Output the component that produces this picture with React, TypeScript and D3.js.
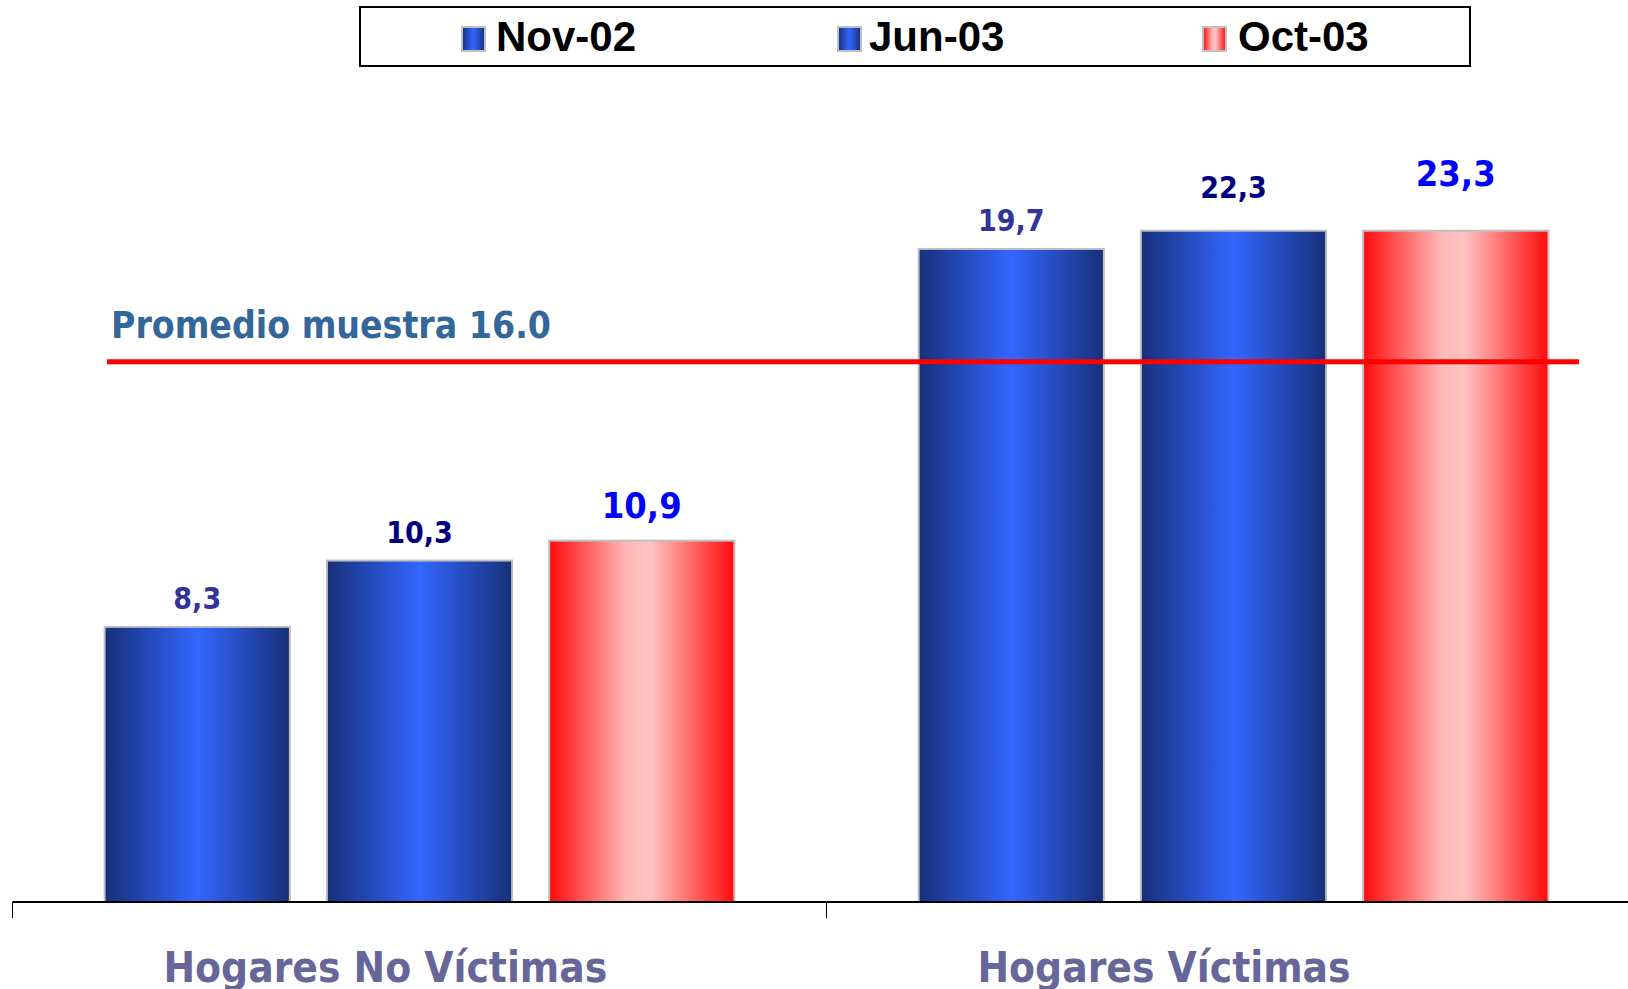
import React from "react";
import * as d3 from "d3";

// data
const categories = ["Hogares No Víctimas", "Hogares Víctimas"];
const seriesNames = ["Nov-02", "Jun-03", "Oct-03"];
const novValues = [8.3, 19.7];
const junValues = [10.3, 22.3];
const octValues = [10.9, 23.3];
const valueLabels = [
  ["8,3", "19,7"],
  ["10,3", "22,3"],
  ["10,9", "23,3"],
];
const averageValue = 16.3;
const averageLabel = "Promedio muestra 16.0";

const seriesValues = [novValues, junValues, octValues];
const labelColors = ["#333399", "#000080", "#0000ff"];
const labelSizes = [30, 30, 36];
const labelOffsets = [18, 18, 23];
const gradIds = ["gradBlue", "gradBlue", "gradRed"];

const W = 1628;
const H = 989;
const baseline = 902;
const plotTop = 230.7;
const yMax = 20.25;

const condensed = "'DejaVu Sans Condensed', 'DejaVu Sans', sans-serif";
const arial = "'Liberation Sans', Arial, sans-serif";

const App = () => {
  const xOuter = d3
    .scaleBand<string>()
    .domain(categories)
    .range([12.5, 12.5 + 814 * 2])
    .padding(0);

  const xInner = d3
    .scaleBand<string>()
    .domain(seriesNames)
    .range([0, xOuter.bandwidth()])
    .paddingInner(0.1574)
    .paddingOuter(0.41);

  const yScale = d3
    .scaleLinear()
    .domain([0, yMax])
    .range([baseline, plotTop])
    .clamp(true);

  const legendSwatchX = [461, 837, 1202];
  const legendTextX = [496, 869, 1238];

  return (
    <svg
      width={W}
      height={H}
      style={{ position: "absolute", left: 0, top: 0, background: "#fff" }}
    >
      <defs>
        <linearGradient id="gradBlue" x1="0" x2="1" y1="0" y2="0">
          <stop offset="0" stopColor="#17307a" />
          <stop offset="0.5" stopColor="#3366ff" />
          <stop offset="1" stopColor="#17307a" />
        </linearGradient>
        <linearGradient id="gradRed" x1="0" x2="1" y1="0" y2="0">
          <stop offset="0" stopColor="#ff0a0a" />
          <stop offset="0.42" stopColor="#ffb8b8" />
          <stop offset="0.55" stopColor="#ffc2c2" />
          <stop offset="1" stopColor="#ff0a0a" />
        </linearGradient>
      </defs>

      {/* legend */}
      <rect x={360} y={7} width={1110} height={59} fill="#fff" stroke="#000" strokeWidth={2} />
      {seriesNames.map((s, i) => (
        <g key={s}>
          <rect
            x={legendSwatchX[i] + 1}
            y={27}
            width={23}
            height={24}
            fill={`url(#${gradIds[i]})`}
            stroke="#c0c0c0"
            strokeWidth={2}
          />
          <text
            x={legendTextX[i]}
            y={51}
            fontFamily={arial}
            fontWeight="bold"
            fontSize={42}
            fill="#000"
          >
            {s}
          </text>
        </g>
      ))}

      {/* bars */}
      {categories.map((c, ci) => (
        <g key={c} transform={`translate(${xOuter(c)},0)`}>
          {seriesNames.map((s, si) => {
            const v = seriesValues[si][ci];
            const top = yScale(v);
            return (
              <rect
                key={s}
                x={xInner(s)! + 1}
                y={top}
                width={xInner.bandwidth() - 2}
                height={baseline - top}
                fill={`url(#${gradIds[si]})`}
                stroke="#c0c0c0"
                strokeWidth={2}
              />
            );
          })}
          {seriesNames.map((s, si) => {
            const v = seriesValues[si][ci];
            const extra = v > yMax ? (v - yMax) * 7 : 0;
            return (
              <text
                key={s + "-label"}
                x={xInner(s)! + xInner.bandwidth() / 2}
                y={yScale(v) - labelOffsets[si] - extra}
                textAnchor="middle"
                fontFamily={condensed}
                fontWeight="bold"
                fontSize={labelSizes[si]}
                fill={labelColors[si]}
              >
                {valueLabels[si][ci]}
              </text>
            );
          })}
        </g>
      ))}

      {/* average line */}
      <line
        x1={107}
        x2={1579}
        y1={yScale(averageValue)}
        y2={yScale(averageValue)}
        stroke="#ff0000"
        strokeWidth={5}
      />
      <text
        x={111}
        y={338.3}
        fontFamily={condensed}
        fontWeight="bold"
        fontSize={37}
        fill="#336699"
      >
        {averageLabel}
      </text>

      {/* axis */}
      <line x1={12.5} x2={W} y1={baseline} y2={baseline} stroke="#000" strokeWidth={2} />
      {categories.map((c) => (
        <line
          key={c + "-tick"}
          x1={xOuter(c)}
          x2={xOuter(c)}
          y1={baseline}
          y2={baseline + 16}
          stroke="#000"
          strokeWidth={1}
        />
      ))}
      {categories.map((c) => (
        <text
          key={c + "-cat"}
          x={xOuter(c)! + 151}
          y={981.7}
          fontFamily={condensed}
          fontWeight="bold"
          fontSize={42}
          fill="#666699"
        >
          {c}
        </text>
      ))}
    </svg>
  );
};

export default App;
